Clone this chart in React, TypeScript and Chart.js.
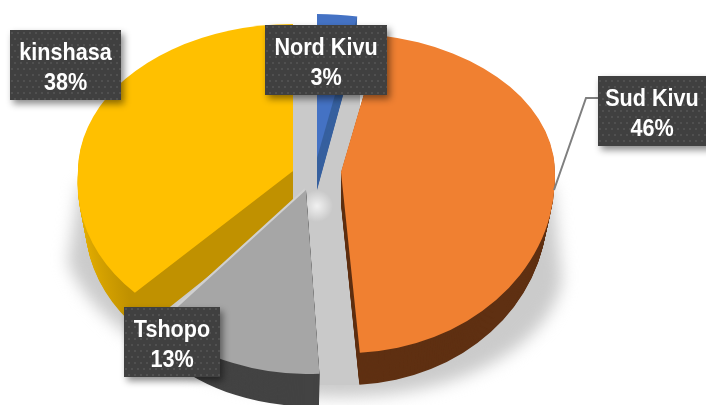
import React, { useEffect, useRef } from "react";
import { Chart, registerables } from "chart.js";

Chart.register(...registerables);

const categories = ["Nord Kivu", "Sud Kivu", "Tshopo", "kinshasa"];
const shares = [3, 46, 13, 38];
const topColors = ["#4472c4", "#f08031", "#a6a6a6", "#ffc000"];
const sideColors = ["#38609f", "#5f3012", "#434343", "#c09100"];

// placement of each exploded slice on the tilted plane
const sliceFrames = [
  { cx: 317, cy: 158, up: 144, down: 144, shear: 0, wide: 1, depth: 32 },
  { cx: 341, cy: 172, up: 139, down: 181, shear: 0.03, wide: 0.995, depth: 32 },
  { cx: 306, cy: 190, up: 184, down: 184, shear: 0, wide: 1, depth: 32 },
  { cx: 293, cy: 171, up: 147, down: 167, shear: -0.09, wide: 1, depth: 38 },
];
const drawOrder = [0, 3, 1, 2];
const labelBoxes = [
  { x: 265, y: 25, w: 122, h: 70 },
  { x: 598, y: 76, w: 112, h: 70 },
  { x: 124, y: 307, w: 96, h: 70 },
  { x: 10, y: 30, w: 111, h: 70 },
];
const RADIUS = 215;
const TAPER = 0.035;

function dotPattern(ctx: CanvasRenderingContext2D) {
  const c = document.createElement("canvas");
  c.width = 12;
  c.height = 12;
  const p = c.getContext("2d")!;
  p.fillStyle = "#404040";
  p.fillRect(0, 0, 12, 12);
  p.fillStyle = "#505050";
  p.fillRect(2, 2, 2, 2);
  p.fillRect(8, 2, 2, 2);
  p.fillRect(5, 8, 2, 2);
  p.fillRect(11, 8, 1, 2);
  p.fillRect(0, 8, 1, 2);
  return ctx.createPattern(c, "repeat")!;
}

function paintArc(ctx: CanvasRenderingContext2D, el: any, color: any, f: any, dx: number, dy: number, sx: number) {
  const saved = el.options;
  const o = Object.create(saved);
  Object.defineProperty(o, "backgroundColor", { value: color });
  Object.defineProperty(o, "borderWidth", { value: 0 });
  el.options = o;
  for (const half of [0, 1]) {
    ctx.save();
    ctx.beginPath();
    const y0 = f.cy + dy;
    if (half === 0) ctx.rect(-50, -200, 900, y0 + 200 + 0.5);
    else ctx.rect(-50, y0, 900, 900);
    ctx.clip();
    ctx.translate(f.cx + dx, y0);
    if (half === 1) ctx.transform(1, 0, f.shear, 1, 0, 0);
    ctx.scale(sx * f.wide, (half === 0 ? f.up : f.down) / RADIUS);
    ctx.translate(-el.x, -el.y);
    el.draw(ctx);
    ctx.restore();
  }
  el.options = saved;
}

const pie3d = {
  id: "pie3d",
  beforeDatasetsDraw(chart: any) {
    const ctx: CanvasRenderingContext2D = chart.ctx;
    // floor shadow
    ctx.save();
    ctx.filter = "blur(8px)";
    ctx.fillStyle = "#cbcbcb";
    ctx.beginPath();
    ctx.moveTo(80, 185);
    ctx.lineTo(68, 262);
    ctx.bezierCurveTo(95, 335, 210, 397, 340, 397);
    ctx.bezierCurveTo(470, 397, 552, 340, 562, 280);
    ctx.lineTo(552, 185);
    ctx.closePath();
    ctx.fill();
    ctx.restore();
    ctx.save();
    ctx.fillStyle = "#c9c9c9";
    ctx.fillRect(290, 28, 70, 240);
    ctx.fillRect(300, 260, 60, 125);
    const g = ctx.createRadialGradient(317, 206, 1, 317, 206, 16);
    g.addColorStop(0, "rgba(255,255,255,0.7)");
    g.addColorStop(1, "rgba(255,255,255,0)");
    ctx.fillStyle = g;
    ctx.fillRect(300, 188, 34, 36);
    ctx.restore();

    const arcs = chart.getDatasetMeta(0).data;
    for (const i of drawOrder) {
      const f = sliceFrames[i];
      let side: any = sideColors[i];
      if (i === 3) {
        const x0 = arcs[i].x;
        const grad = ctx.createLinearGradient(x0 - 210, 0, x0 - 155, 0);
        grad.addColorStop(0, "#e2ac00");
        grad.addColorStop(1, sideColors[i]);
        side = grad;
      }
      for (let d = f.depth; d >= 1; d--) paintArc(ctx, arcs[i], side, f, 0, d, 1 - (TAPER * d) / f.depth);
      if (i === 2) paintArc(ctx, arcs[i], "#d0d0d0", f, -1.5, -1.5, 1);
      paintArc(ctx, arcs[i], topColors[i], f, 0, 0, 1);
    }
    return false;
  },
  afterDraw(chart: any) {
    const ctx: CanvasRenderingContext2D = chart.ctx;
    ctx.save();
    ctx.strokeStyle = "#7f7f7f";
    ctx.lineWidth = 2;
    ctx.beginPath();
    ctx.moveTo(554, 190);
    ctx.lineTo(586, 98);
    ctx.lineTo(598, 98);
    ctx.stroke();
    ctx.restore();

    const pattern = dotPattern(ctx);
    categories.forEach((name, i) => {
      const b = labelBoxes[i];
      ctx.save();
      ctx.shadowColor = "rgba(0,0,0,0.45)";
      ctx.shadowBlur = 7;
      ctx.shadowOffsetX = 3;
      ctx.shadowOffsetY = 4;
      ctx.fillStyle = pattern;
      ctx.fillRect(b.x, b.y, b.w, b.h);
      ctx.restore();
      ctx.save();
      ctx.fillStyle = "#ffffff";
      ctx.textAlign = "center";
      ctx.textBaseline = "alphabetic";
      ctx.font = 'bold 24px "Liberation Sans"';
      const mid = i === 1 ? 652 : b.x + b.w / 2;
      ctx.translate(mid, b.y);
      ctx.scale(0.9, 1);
      ctx.fillText(name, 0, 30);
      ctx.fillText(shares[i] + "%", 0, 60);
      ctx.restore();
    });
  },
};

export default function App() {
  const ref = useRef<HTMLCanvasElement>(null);
  useEffect(() => {
    const chart = new Chart(ref.current!, {
      type: "pie",
      data: {
        labels: categories,
        datasets: [{ data: shares, backgroundColor: topColors, borderWidth: 0 }],
      },
      options: {
        animation: false,
        responsive: false,
        radius: RADIUS,
        rotation: 0,
        plugins: { legend: { display: false }, tooltip: { enabled: false } },
      } as any,
      plugins: [pie3d as any],
    });
    return () => chart.destroy();
  }, []);
  return (
    <div style={{ position: "absolute", left: 0, top: 0, width: 706, height: 405, overflow: "hidden", background: "#fff" }}>
      <canvas ref={ref} width={706} height={405} style={{ display: "block" }} />
    </div>
  );
}
